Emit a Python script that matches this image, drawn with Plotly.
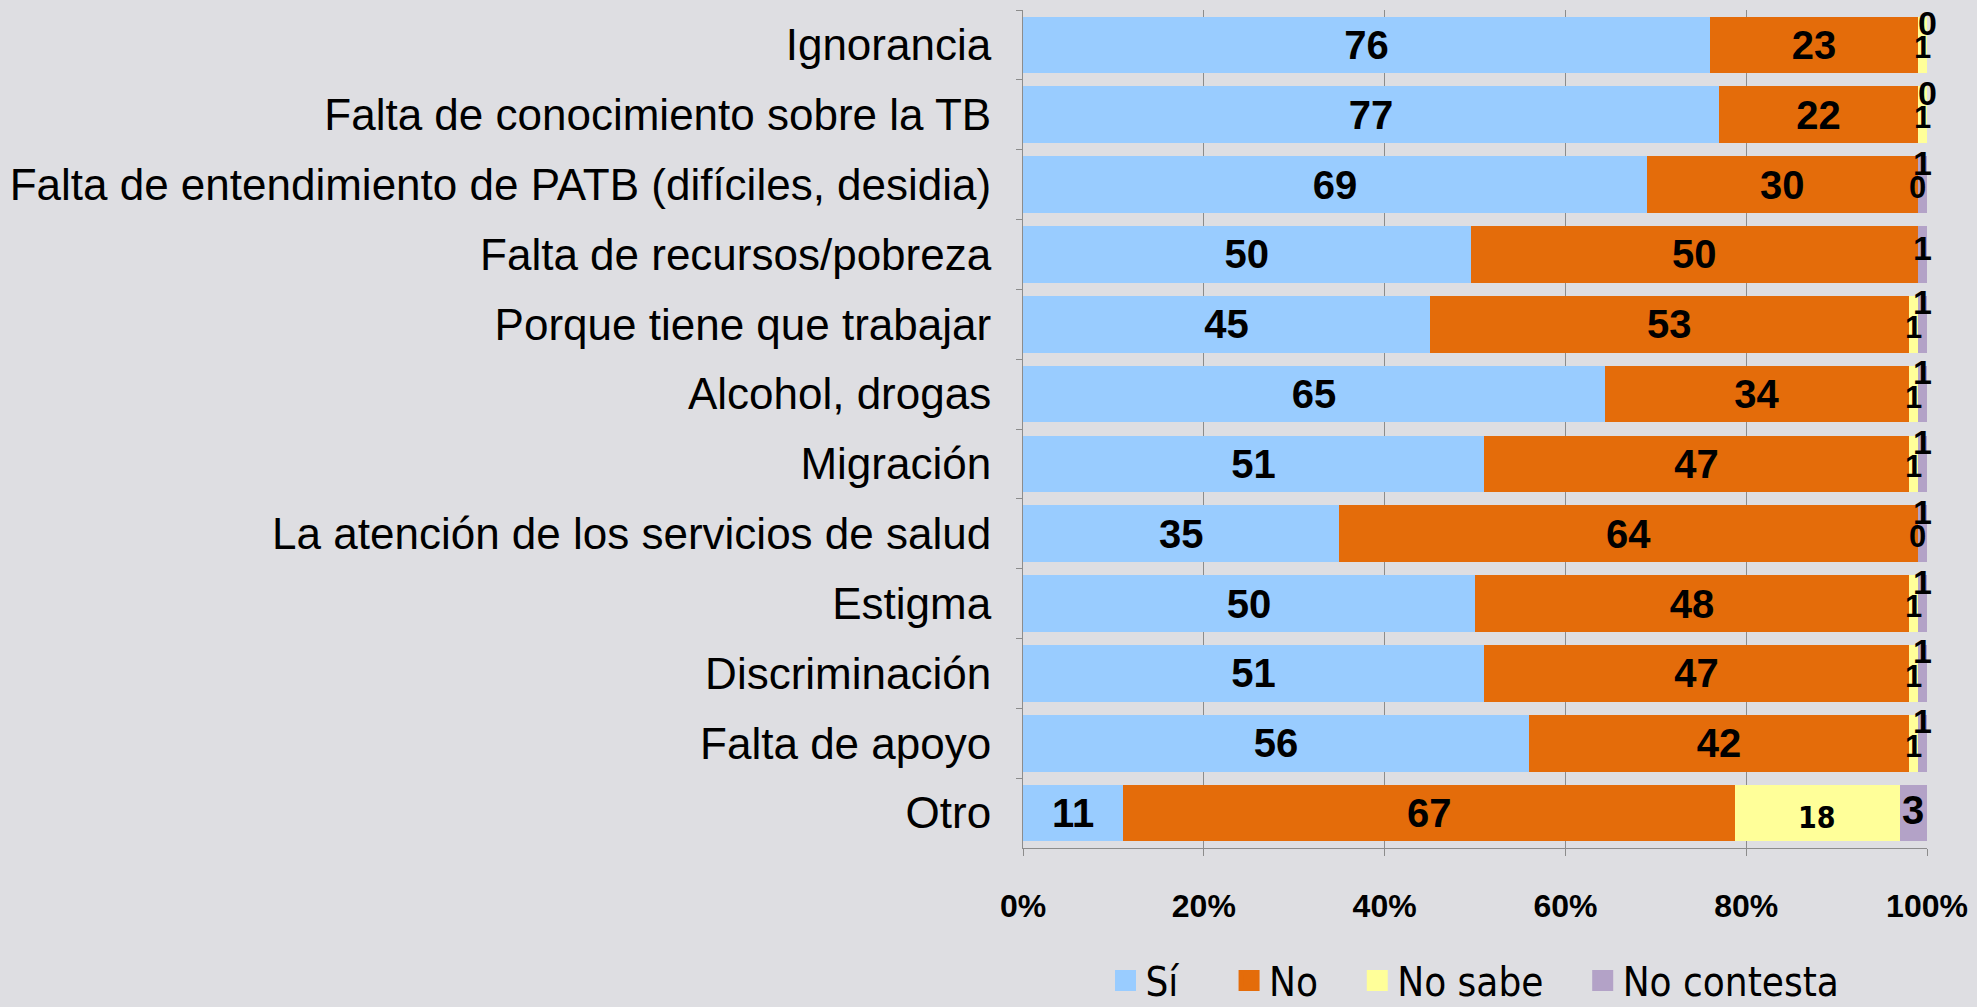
import plotly.graph_objects as go

categories = [
    "Ignorancia",
    "Falta de conocimiento sobre la TB",
    "Falta de entendimiento de PATB (difíciles, desidia)",
    "Falta de recursos/pobreza",
    "Porque tiene que trabajar",
    "Alcohol, drogas",
    "Migración",
    "La atención de los servicios de salud",
    "Estigma",
    "Discriminación",
    "Falta de apoyo",
    "Otro",
]
si = [76, 77, 69, 50, 45, 65, 51, 35, 50, 51, 56, 11]
no = [23, 22, 30, 50, 53, 34, 47, 64, 48, 47, 42, 67]
no_sabe = [1, 1, 0, None, 1, 1, 1, 0, 1, 1, 1, 18]
no_contesta = [0, 0, 1, 1, 1, 1, 1, 1, 1, 1, 1, 3]

series_names = ["Sí", "No", "No sabe", "No contesta"]
colors = ["#99CCFF", "#E46C0A", "#FFFF99", "#B3A2C7"]
tick_vals = [0, 20, 40, 60, 80, 100]
tick_text = ["0%", "20%", "40%", "60%", "80%", "100%"]

raw = [si, no, no_sabe, no_contesta]
vals = [[(v if v is not None else 0) for v in s] for s in raw]
totals = [sum(s[i] for s in vals) for i in range(len(categories))]
pct = [[s[i] / totals[i] * 100 for i in range(len(categories))] for s in vals]

LABEL_FONT = "Liberation Sans, Arial, sans-serif"
NARROW = "DejaVu Sans Condensed, Liberation Sans Narrow, sans-serif"

fig = go.Figure()
for k in range(4):
    show_text = k < 2
    fig.add_trace(go.Bar(
        y=categories, x=pct[k], orientation="h",
        name=series_names[k], legendgroup=series_names[k], showlegend=False,
        marker=dict(color=colors[k], line=dict(width=0)),
        text=[str(v) for v in raw[k]] if show_text else None,
        textposition="inside" if show_text else "none",
        insidetextanchor="middle", textangle=0,
        textfont=dict(family=LABEL_FONT, size=40, color="black", weight="bold"),
        hoverinfo="skip",
    ))

# legend entries
pads = ["\u00a0\u00a0\u00a0\u00a0", "\u00a0\u00a0\u00a0", "\u00a0\u00a0\u00a0", ""]
for k in range(4):
    fig.add_trace(go.Scatter(
        x=[None], y=[None], mode="markers", name=series_names[k] + pads[k],
        legendgroup=series_names[k],
        marker=dict(symbol="square", size=16, color=colors[k],
                    line=dict(width=5, color=colors[k])),
    ))

# small segment labels
annotations = []
for i, cat in enumerate(categories):
    base_ns = pct[0][i] + pct[1][i]
    base_nc = base_ns + pct[2][i]
    ns_x = base_ns + pct[2][i] / 2
    nc_x = base_nc + pct[3][i] / 2
    big = pct[2][i] > 5
    if no_sabe[i] is not None:
        annotations.append(dict(
            x=ns_x, y=cat, xref="x", yref="y", text=str(no_sabe[i]),
            showarrow=False, yshift=-4 if big else -3,
            font=dict(family=NARROW if big else LABEL_FONT, size=30 if big else 31,
                      color="black", weight="bold"),
        ))
    if no_contesta[i] is not None:
        if big:
            ys = 3
        elif no_sabe[i] is None:
            ys = 6
        else:
            ys = 22
        annotations.append(dict(
            x=nc_x, y=cat, xref="x", yref="y", text=str(no_contesta[i]),
            showarrow=False, yshift=ys,
            font=dict(family=LABEL_FONT, size=40 if big else 34,
                      color="black", weight="bold"),
        ))

bg = "#dedee2"
fig.update_layout(
    width=1977, height=1007,
    barmode="stack", bargap=0.19,
    paper_bgcolor=bg, plot_bgcolor=bg,
    margin=dict(l=1023, r=50, t=10, b=159, autoexpand=False),
    annotations=annotations,
    showlegend=True,
    legend=dict(
        orientation="h", x=0.5, xanchor="center", y=-0.158, yanchor="middle",
        font=dict(family=NARROW, size=40, color="black"),
        bgcolor="rgba(0,0,0,0)", itemclick=False, itemdoubleclick=False,
    ),
    xaxis=dict(
        range=[0, 100], tickvals=tick_vals, ticktext=tick_text,
        showgrid=True, gridcolor="#8c8c8c", gridwidth=1,
        showline=True, linecolor="#8c8c8c", linewidth=1,
        ticks="outside", ticklen=7, tickcolor="#8c8c8c",
        ticklabelstandoff=23, ticklabeloverflow="allow",
        zeroline=False, fixedrange=True,
        tickfont=dict(family=LABEL_FONT, size=32, color="black", weight="bold"),
    ),
    yaxis=dict(
        autorange="reversed", showline=True, linecolor="#8c8c8c", linewidth=1,
        ticks="outside", ticklen=6, tickcolor="#8c8c8c", tickson="boundaries",
        ticklabelstandoff=22, showgrid=False, fixedrange=True,
        tickfont=dict(family=LABEL_FONT, size=44, color="black"),
    ),
)

fig.write_html(
    "out.html",
    config={"displayModeBar": False, "staticPlot": False},
    post_script="document.body.style.margin='0';document.body.style.overflow='hidden';"
                "document.body.style.background='" + bg + "';",
)
